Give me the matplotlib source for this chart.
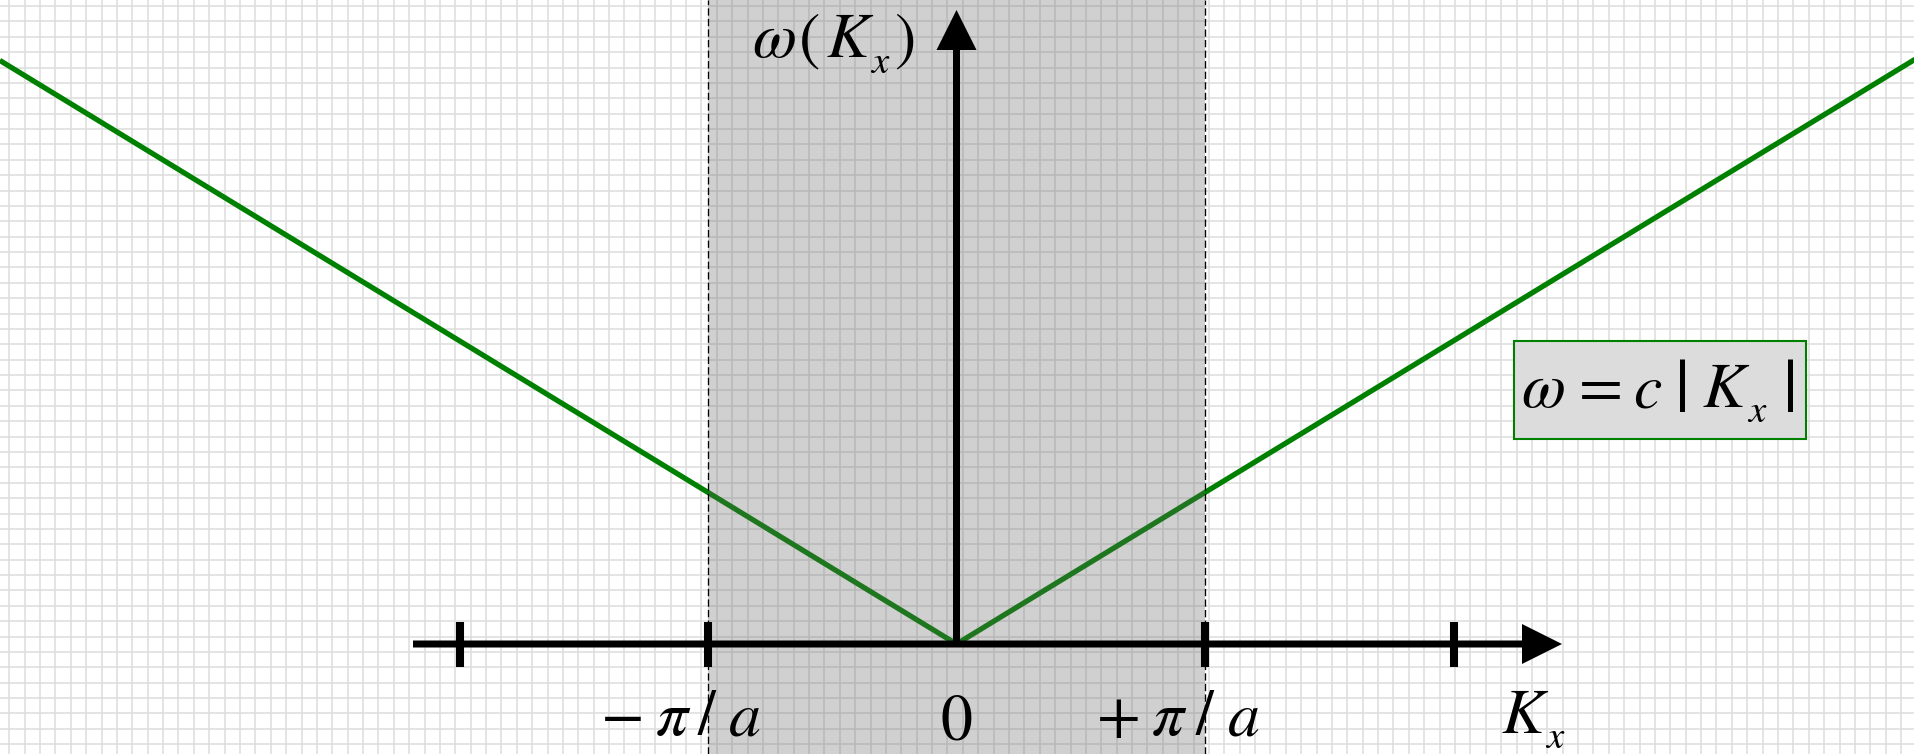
import numpy as np
import matplotlib
matplotlib.use("Agg")
import matplotlib.pyplot as plt
from matplotlib.patches import Rectangle

# dispersion of a 1D lattice in the long-wavelength limit, K in units of pi/a
c = 0.61
k_ends = [-3.85, 0.0, 3.86]
omega = [c * abs(k) for k in k_ends]

tick_positions = [-2, -1, 1, 2]
zone_edges = [-1, 1]

# figure geometry: 248.5 px per unit on both axes, origin at (956.5, 644)
W, H = 1915, 754
ox, oy, unit = 956.5, 644.0, 248.5
FS, SUB, BAR = 46, 28, 54
FONT = ['STIXGeneral', 'Liberation Serif']


def px(x):
    return (x - ox) / unit


def py(y):
    return (oy - y) / unit


def put(ax, pieces):
    """Draw a formula as separate glyph runs: (text, x centre, baseline, size, style)."""
    for s, x, y, size, style in pieces:
        ax.text(px(x), py(y), s, fontsize=size, family=FONT,
                style=style, ha='center', va='baseline', zorder=7)


fig = plt.figure(figsize=(W / 100, H / 100), dpi=100)
ax = fig.add_axes([0, 0, 1, 1])
ax.set_xlim(px(0), px(W))
ax.set_ylim(py(H), py(0))
ax.axis('off')

# graph paper background
step = 15.38 / unit
gx = np.arange(px(9.3), px(W), step)
gy = np.arange(py(6.0), py(H), -step)
ax.vlines(gx, py(H), py(0), color='#dddddd', lw=1.1, zorder=0)
ax.hlines(gy, px(0), px(W), color='#dddddd', lw=1.1, zorder=0)

# linear dispersion
ax.plot(k_ends, omega, color='#008000', lw=3.8, solid_capstyle='butt', zorder=1)

# first Brillouin zone
ax.axvspan(zone_edges[0], zone_edges[1], color=(100 / 255, 100 / 255, 100 / 255),
           alpha=0.30, lw=0, zorder=2)
for xe in zone_edges:
    ax.axvline(xe, color='black', lw=0.95, linestyle=(0, (5.5, 2.5)), zorder=3)

# axes with arrow heads
shaft = 7 / unit
head = 40 / unit
x_start, x_tip = px(413), px(1562)
y_tip = py(10)
ax.arrow(x_start, 0, x_tip - x_start, 0, width=shaft, head_width=head,
         head_length=head, length_includes_head=True, color='black', lw=0, zorder=5)
ax.arrow(0, 0, 0, y_tip, width=shaft, head_width=head,
         head_length=head, length_includes_head=True, color='black', lw=0, zorder=5)
ax.vlines(tick_positions, -0.0926, 0.0885, color='black', lw=5.8, zorder=5)

# tick labels
put(ax, [('\u2212', 623, 735, FS, 'normal'), ('\u03c0', 672, 735, FS, 'italic'),
         ('/', 706, 735, FS, 'normal'), ('a', 745, 735, FS, 'italic')])
put(ax, [('0', 956, 739, FS, 'normal')])
put(ax, [('+', 1119, 735, FS, 'normal'), ('\u03c0', 1168, 735, FS, 'italic'),
         ('/', 1204, 735, FS, 'normal'), ('a', 1244, 735, FS, 'italic')])

# axis titles
put(ax, [('K', 1523, 733, FS, 'italic'), ('x', 1555, 748, SUB, 'italic')])
put(ax, [('\u03c9', 774, 57, FS, 'italic'), ('(', 810, 57, FS, 'normal'),
         ('K', 848, 57, FS, 'italic'), ('x', 880, 73, SUB, 'italic'),
         (')', 905, 57, FS, 'normal')])

# formula box
ax.add_patch(Rectangle((px(1514), py(439)), (1806 - 1514) / unit, (439 - 341) / unit,
                       facecolor='#dcdcdc', edgecolor='#008000', lw=1.5, zorder=6))
put(ax, [('\u03c9', 1543, 407, FS, 'italic'), ('=', 1601, 407, FS, 'normal'),
         ('c', 1647, 407, FS, 'italic'), ('|', 1682, 411, BAR, 'normal'),
         ('K', 1724, 407, FS, 'italic'), ('x', 1757, 422, SUB, 'italic'),
         ('|', 1790, 411, BAR, 'normal')])

fig.savefig('out.png', dpi=100)
